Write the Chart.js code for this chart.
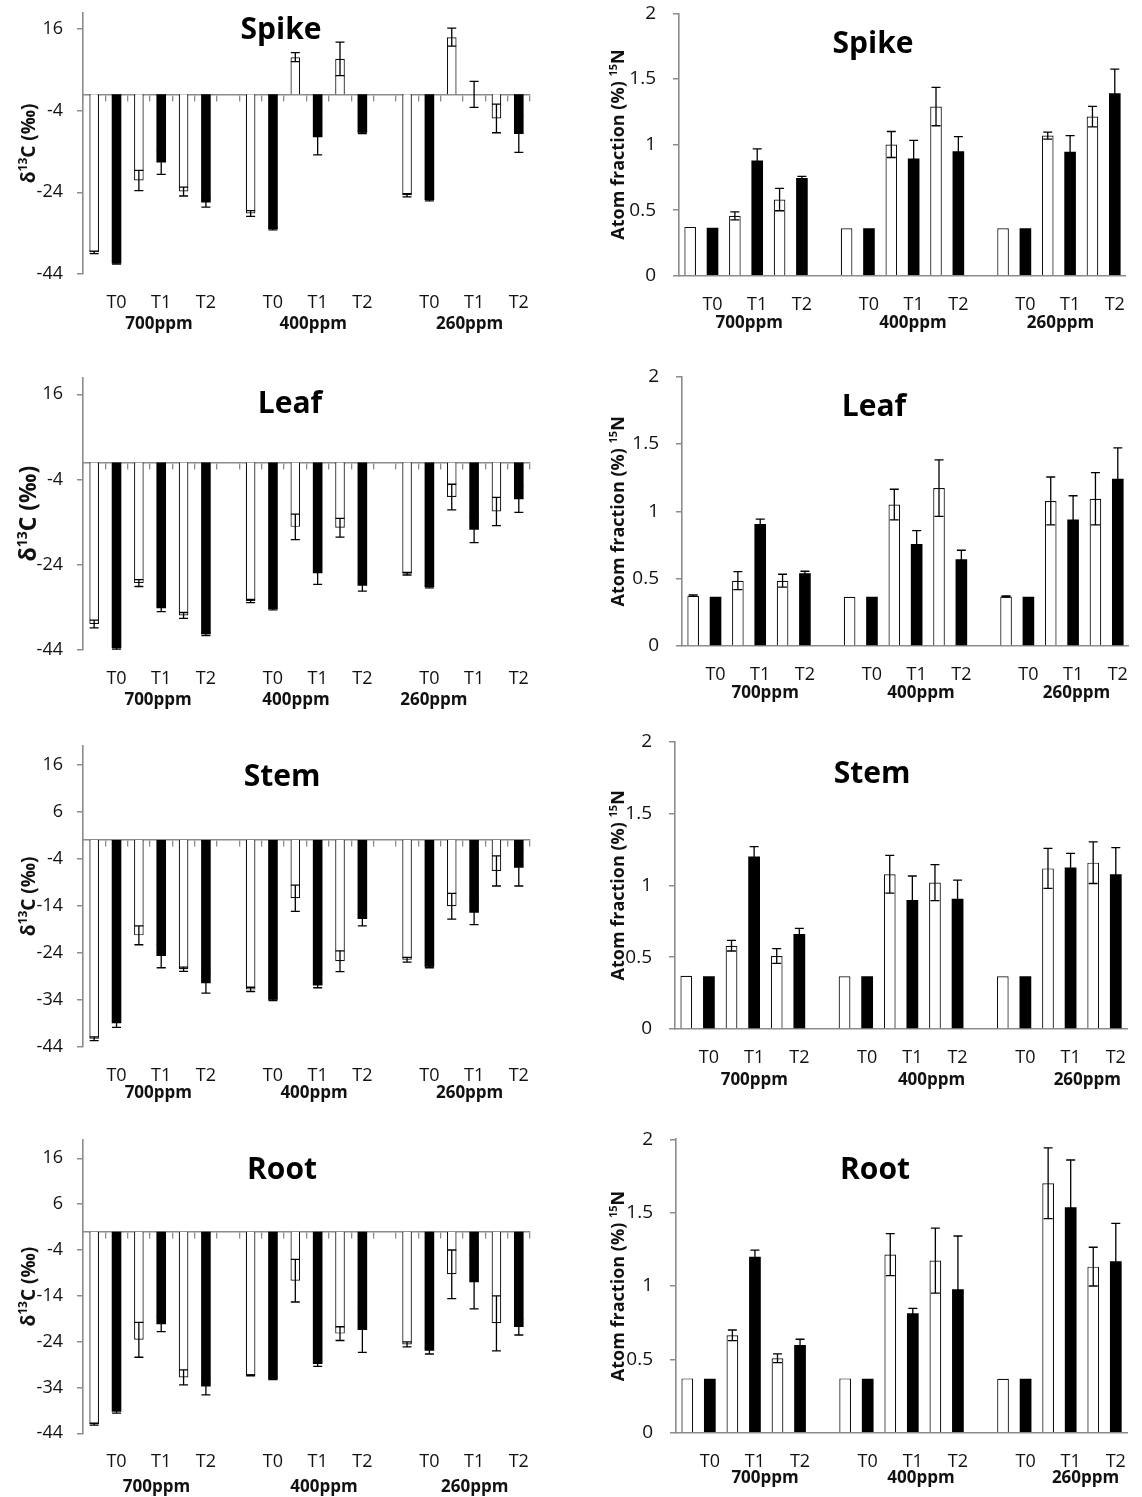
<!DOCTYPE html>
<html>
<head>
<meta charset="utf-8">
<script src="https://cdn.jsdelivr.net/npm/chart.js@4.4.1/dist/chart.umd.min.js"></script>
<style>
  html, body { margin: 0; padding: 0; background: #fff; }
  #fig { position: relative; width: 1142px; height: 1497px; overflow: hidden; background: #fff; }
  #fig canvas { position: absolute; }
</style>
</head>
<body>
<div id="fig"></div>
<script>
// Treatment groups and sampling times
const groups = ['700ppm', '400ppm', '260ppm'];
const times = ['T0', 'T1', 'T2'];

// Axis tick values
const carbonTicksWide = [-44, -24, -4, 16];
const carbonTicksNarrow = [-44, -34, -24, -14, -4, 6, 16];
const nitrogenTicks = [0, 0.5, 1, 1.5, 2];

// Value order in every array: 700ppm T0,T1,T2 | 400ppm T0,T1,T2 | 260ppm T0,T1,T2
// open = white bars, filled = black bars, *Err = error bar half-length

// Spike
const spikeC_open      = [-38.7, -21.1, -23.8, -29.2, 9.1, 8.7, -24.7, 14.0, -5.9];
const spikeC_openErr   = [0.3, 2.5, 1.1, 0.7, 1.1, 4.1, 0.4, 2.2, 3.5];
const spikeC_filled    = [-41.4, -16.7, -26.5, -33.0, -10.5, -9.4, -25.9, 0.0, -9.7];
const spikeC_filledErr = [0.2, 2.9, 1.1, 0.2, 4.3, 0.2, 0.2, 3.2, 4.5];
const spikeN_open      = [0.372, 0.456, 0.58, 0.362, 1.0, 1.289, 0.362, 1.068, 1.213];
const spikeN_openErr   = [0, 0.03, 0.085, 0, 0.099, 0.146, 0, 0.027, 0.078];
const spikeN_filled    = [0.365, 0.878, 0.744, 0.362, 0.894, 0.949, 0.362, 0.944, 1.39];
const spikeN_filledErr = [0, 0.089, 0.013, 0, 0.137, 0.111, 0, 0.124, 0.185];

// Leaf
const leafC_open      = [-37.9, -28.3, -35.9, -32.5, -15.1, -15.3, -26.1, -8.1, -11.5];
const leafC_openErr   = [0.9, 0.8, 0.7, 0.4, 3.0, 2.2, 0.3, 3.0, 3.3];
const leafC_filled    = [-43.6, -34.2, -40.3, -34.4, -26.0, -28.9, -29.2, -15.8, -8.6];
const leafC_filledErr = [0.2, 0.8, 0.3, 0.2, 2.6, 1.3, 0.2, 3.0, 3.1];
const leafN_open      = [0.374, 0.485, 0.485, 0.366, 1.05, 1.173, 0.368, 1.077, 1.094];
const leafN_openErr   = [0.005, 0.067, 0.048, 0, 0.114, 0.21, 0.005, 0.178, 0.194];
const leafN_filled    = [0.366, 0.906, 0.54, 0.366, 0.757, 0.644, 0.366, 0.94, 1.243];
const leafN_filledErr = [0, 0.037, 0.015, 0, 0.10, 0.067, 0, 0.176, 0.228];

// Stem
const stemC_open      = [-42.3, -20.3, -27.5, -31.8, -12.4, -25.8, -25.5, -14.1, -6.6];
const stemC_openErr   = [0.4, 2.0, 0.45, 0.45, 2.8, 2.2, 0.5, 2.75, 3.2];
const stemC_filled    = [-39.0, -24.7, -30.5, -34.0, -31.0, -16.8, -27.0, -15.5, -5.9];
const stemC_filledErr = [0.9, 2.5, 2.1, 0.2, 0.45, 1.5, 0.2, 2.5, 3.9];
const stemN_open      = [0.371, 0.58, 0.508, 0.367, 1.077, 1.019, 0.367, 1.118, 1.158];
const stemN_openErr   = [0, 0.037, 0.051, 0, 0.131, 0.125, 0, 0.139, 0.145];
const stemN_filled    = [0.367, 1.2, 0.661, 0.367, 0.898, 0.907, 0.367, 1.125, 1.077];
const stemN_filledErr = [0, 0.07, 0.039, 0, 0.167, 0.13, 0, 0.097, 0.186];

// Root
const rootC_open      = [-42.0, -23.6, -31.8, -31.35, -10.7, -22.25, -24.6, -9.3, -20.0];
const rootC_openErr   = [0.2, 3.8, 1.65, 0.1, 4.65, 1.5, 0.55, 5.3, 6.0];
const rootC_filled    = [-39.3, -20.2, -33.8, -32.2, -28.9, -21.45, -26.0, -11.05, -20.8];
const rootC_filledErr = [0.3, 1.6, 1.8, 0.1, 0.5, 4.9, 0.7, 5.8, 1.75];
const rootN_open      = [0.37, 0.664, 0.507, 0.37, 1.214, 1.173, 0.368, 1.70, 1.132];
const rootN_openErr   = [0, 0.036, 0.03, 0, 0.143, 0.222, 0, 0.241, 0.132];
const rootN_filled    = [0.368, 1.2, 0.598, 0.368, 0.814, 0.977, 0.368, 1.536, 1.168];
const rootN_filledErr = [0, 0.045, 0.039, 0, 0.034, 0.364, 0, 0.323, 0.259];

// ---------------------------------------------------------------------------
const FONT = "'Open Sans', 'DejaVu Sans', sans-serif";
const AXIS_GREY = '#8c8c8c';
const TEXT = '#111';
const SLOTS = 20; // 3 groups x 6 bars, one empty slot between groups

// Slot index of bar k (0..8) within the 20-slot category axis
function slotOf(k, filled) {
  const g = Math.floor(k / 3), t = k % 3;
  return g * 7 + t * 2 + (filled ? 1 : 0);
}
function toSlots(vals, filled) {
  const out = new Array(SLOTS).fill(null);
  vals.forEach((v, k) => { out[slotOf(k, filled)] = v; });
  return out;
}
// Category labels: time label under each filled bar
const slotLabels = new Array(SLOTS).fill('');
groups.forEach((g, gi) => times.forEach((t, ti) => { slotLabels[slotOf(gi * 3 + ti, true)] = t; }));

const carbonTitle = [{ text: 'δ' }, { text: '13', sup: true }, { text: 'C (‰)' }];
const nitrogenTitle = [{ text: 'Atom fraction (%) ' }, { text: '15', sup: true }, { text: 'N' }];

// Panel layout (plot-area box in page pixels) and data bindings
const panels = [
  { id: 'spikeC', title: 'Spike', kind: 'C', open: spikeC_open, openErr: spikeC_openErr, filled: spikeC_filled, filledErr: spikeC_filledErr,
    yTicks: carbonTicksWide, area: { l: 83, t: 12.7, w: 460, h: 261.3 }, titleAt: [281, 30], groupAt: [2.9, 9.8, 16.8], groupDy: 50, axisX: 28, axisFont: 19 },
  { id: 'spikeN', title: 'Spike', kind: 'N', open: spikeN_open, openErr: spikeN_openErr, filled: spikeN_filled, filledErr: spikeN_filledErr,
    yTicks: nitrogenTicks, area: { l: 679, t: 13.3, w: 460, h: 262.4 }, titleAt: [873, 44], groupAt: [2.64, 9.97, 16.57], groupDy: 47.6, axisX: 618, axisFont: 18 },
  { id: 'leafC', title: 'Leaf', kind: 'C', open: leafC_open, openErr: leafC_openErr, filled: leafC_filled, filledErr: leafC_filledErr,
    yTicks: carbonTicksWide, area: { l: 83, t: 377.3, w: 460, h: 272.7 }, titleAt: [290, 404], groupAt: [2.86, 9.03, 15.2], groupDy: 50, axisX: 28, axisFont: 23 },
  { id: 'leafN', title: 'Leaf', kind: 'N', open: leafN_open, openErr: leafN_openErr, filled: leafN_filled, filledErr: leafN_filledErr,
    yTicks: nitrogenTicks, area: { l: 682, t: 376.7, w: 460, h: 269.3 }, titleAt: [874, 407], groupAt: [3.22, 10.19, 17.15], groupDy: 47.3, axisX: 618, axisFont: 18 },
  { id: 'stemC', title: 'Stem', kind: 'C', open: stemC_open, openErr: stemC_openErr, filled: stemC_filled, filledErr: stemC_filledErr,
    yTicks: carbonTicksNarrow, area: { l: 83, t: 746, w: 460, h: 300.7 }, titleAt: [282, 777], groupAt: [2.87, 9.84, 16.8], groupDy: 46.6, axisX: 28, axisFont: 19 },
  { id: 'stemN', title: 'Stem', kind: 'N', open: stemN_open, openErr: stemN_openErr, filled: stemN_filled, filledErr: stemN_filledErr,
    yTicks: nitrogenTicks, area: { l: 675, t: 741.7, w: 465, h: 287.3 }, titleAt: [872, 774], groupAt: [3.01, 10.85, 17.74], groupDy: 51, axisX: 618, axisFont: 18 },
  { id: 'rootC', title: 'Root', kind: 'C', open: rootC_open, openErr: rootC_openErr, filled: rootC_filled, filledErr: rootC_filledErr,
    yTicks: carbonTicksNarrow, area: { l: 83, t: 1140, w: 460, h: 293.3 }, titleAt: [282, 1170], groupAt: [2.79, 10.28, 17.03], groupDy: 53.4, axisX: 28, axisFont: 19 },
  { id: 'rootN', title: 'Root', kind: 'N', open: rootN_open, openErr: rootN_openErr, filled: rootN_filled, filledErr: rootN_filledErr,
    yTicks: nitrogenTicks, area: { l: 676, t: 1139.3, w: 464, h: 293.4 }, titleAt: [875, 1170], groupAt: [3.45, 10.36, 17.66], groupDy: 45.6, axisX: 618, axisFont: 18 }
];

// Symmetric error bars, drawn from each dataset's errorBars array
const errorBarsPlugin = {
  id: 'errorBars',
  afterDatasetsDraw(chart) {
    const { ctx } = chart;
    const ys = chart.scales.y;
    const cap = 4.5;
    ctx.save();
    ctx.strokeStyle = '#000';
    ctx.lineWidth = 1.3;
    chart.data.datasets.forEach((ds, di) => {
      const meta = chart.getDatasetMeta(di);
      ds.data.forEach((v, i) => {
        const e = ds.errorBars[i];
        if (v == null || e == null || e <= 0) return;
        const x = meta.data[i].x;
        const yHi = ys.getPixelForValue(v + e);
        const yLo = ys.getPixelForValue(v - e);
        ctx.beginPath();
        ctx.moveTo(x, yHi); ctx.lineTo(x, yLo);
        ctx.moveTo(x - cap, yHi); ctx.lineTo(x + cap, yHi);
        ctx.moveTo(x - cap, yLo); ctx.lineTo(x + cap, yLo);
        ctx.stroke();
      });
    });
    ctx.restore();
  }
};

// Rotated axis title with a raised superscript part
function drawRotatedTitle(ctx, parts, cx, cy, size) {
  ctx.save();
  ctx.translate(cx, cy);
  ctx.rotate(-Math.PI / 2);
  ctx.fillStyle = TEXT;
  ctx.textAlign = 'left';
  ctx.textBaseline = 'alphabetic';
  const fontFor = p => `bold ${p.sup ? Math.round(size * 0.62) : size}px ${FONT}`;
  let total = 0;
  parts.forEach(p => { ctx.font = fontFor(p); total += ctx.measureText(p.text).width; });
  let x = -total / 2;
  const base = size * 0.36;
  parts.forEach(p => {
    ctx.font = fontFor(p);
    ctx.fillText(p.text, x, base - (p.sup ? size * 0.42 : 0));
    x += ctx.measureText(p.text).width;
  });
  ctx.restore();
}

// Panel title, group labels and axis title
function decorPlugin(spec) {
  return {
    id: 'decor',
    afterDraw(chart) {
      const { ctx, chartArea: a } = chart;
      const xs = chart.scales.x;
      ctx.save();
      ctx.fillStyle = '#000';
      ctx.textAlign = 'center';
      ctx.textBaseline = 'middle';
      ctx.font = `bold 30px ${FONT}`;
      ctx.fillText(spec.title, spec.titleAt[0] - spec.canvasLeft, spec.titleAt[1] - spec.canvasTop);
      ctx.fillStyle = TEXT;
      ctx.font = `bold 17px ${FONT}`;
      groups.forEach((g, k) => ctx.fillText(g, xs.getPixelForValue(spec.groupAt[k]), a.bottom + spec.groupDy));
      ctx.restore();
      drawRotatedTitle(ctx, spec.kind === 'C' ? carbonTitle : nitrogenTitle,
        spec.axisX - spec.canvasLeft, (a.top + a.bottom) / 2, spec.axisFont);
    }
  };
}

const fig = document.getElementById('fig');
// top padding must cover the y-axis label overhang (half label height + tick padding)
const PAD_TOP = 36, PAD_RIGHT = 4, X_AXIS_H = 70;

panels.forEach(spec => {
  const isC = spec.kind === 'C';
  spec.canvasLeft = isC ? 0 : 571;
  spec.canvasTop = Math.floor(spec.area.t) - PAD_TOP;
  const yW = spec.area.l - spec.canvasLeft;
  const padTop = spec.area.t - spec.canvasTop;
  const W = Math.ceil(yW + spec.area.w + PAD_RIGHT);
  const H = Math.ceil(padTop + spec.area.h + X_AXIS_H);
  const padBottom = H - (padTop + spec.area.h + X_AXIS_H);

  const canvas = document.createElement('canvas');
  canvas.width = W; canvas.height = H;
  canvas.style.width = W + 'px'; canvas.style.height = H + 'px';
  canvas.style.left = spec.canvasLeft + 'px';
  canvas.style.top = spec.canvasTop + 'px';
  fig.appendChild(canvas);

  const barPct = isC ? 0.43 : 0.52;
  const scales = {
    x: {
      type: 'category',
      position: 'bottom',
      offset: true,
      z: 1,
      grid: { display: false, drawTicks: false },
      border: { display: !isC, color: AXIS_GREY, width: 1.6 },
      ticks: { autoSkip: false, maxRotation: 0, minRotation: 0, padding: 18, color: TEXT, font: { family: FONT, size: 18 } },
      afterFit(s) { s.height = X_AXIS_H; }
    },
    y: {
      type: 'linear',
      position: 'left',
      min: isC ? -44 : 0,
      max: isC ? 20 : 2,
      afterBuildTicks(s) { s.ticks = spec.yTicks.map(v => ({ value: v })); },
      grid: { display: true, drawOnChartArea: false, drawTicks: true, tickLength: 6, color: AXIS_GREY, lineWidth: 1.5 },
      border: { display: true, color: AXIS_GREY, width: 1.6 },
      ticks: { padding: isC ? 14 : 17, color: TEXT, font: { family: FONT, size: isC ? 18 : 19 }, callback: v => String(v) },
      afterFit(s) { s.width = yW; }
    }
  };
  if (isC) {
    // horizontal zero line with tick marks between bars
    scales.xz = {
      type: 'category',
      position: { y: 0 },
      offset: true,
      z: 1,
      grid: { display: true, offset: true, drawOnChartArea: false, drawTicks: true, tickLength: 6, color: AXIS_GREY, lineWidth: 1.3 },
      border: { display: true, color: AXIS_GREY, width: 1.6 },
      ticks: { display: false }
    };
  }

  new Chart(canvas, {
    type: 'bar',
    data: {
      labels: slotLabels,
      datasets: [
        { label: 'open', data: toSlots(spec.open, false), errorBars: toSlots(spec.openErr, false),
          backgroundColor: '#ffffff', borderColor: '#111', borderWidth: 1.2,
          barPercentage: barPct, categoryPercentage: 1, grouped: false },
        { label: 'filled', data: toSlots(spec.filled, true), errorBars: toSlots(spec.filledErr, true),
          backgroundColor: '#000000', borderWidth: 0,
          barPercentage: barPct, categoryPercentage: 1, grouped: false }
      ]
    },
    options: {
      responsive: false,
      animation: false,
      devicePixelRatio: 1,
      layout: { padding: { top: padTop, right: PAD_RIGHT, left: 0, bottom: padBottom } },
      plugins: { legend: { display: false }, tooltip: { enabled: false }, title: { display: false } },
      scales
    },
    plugins: [errorBarsPlugin, decorPlugin(spec)]
  });
});
</script>
</body>
</html>
